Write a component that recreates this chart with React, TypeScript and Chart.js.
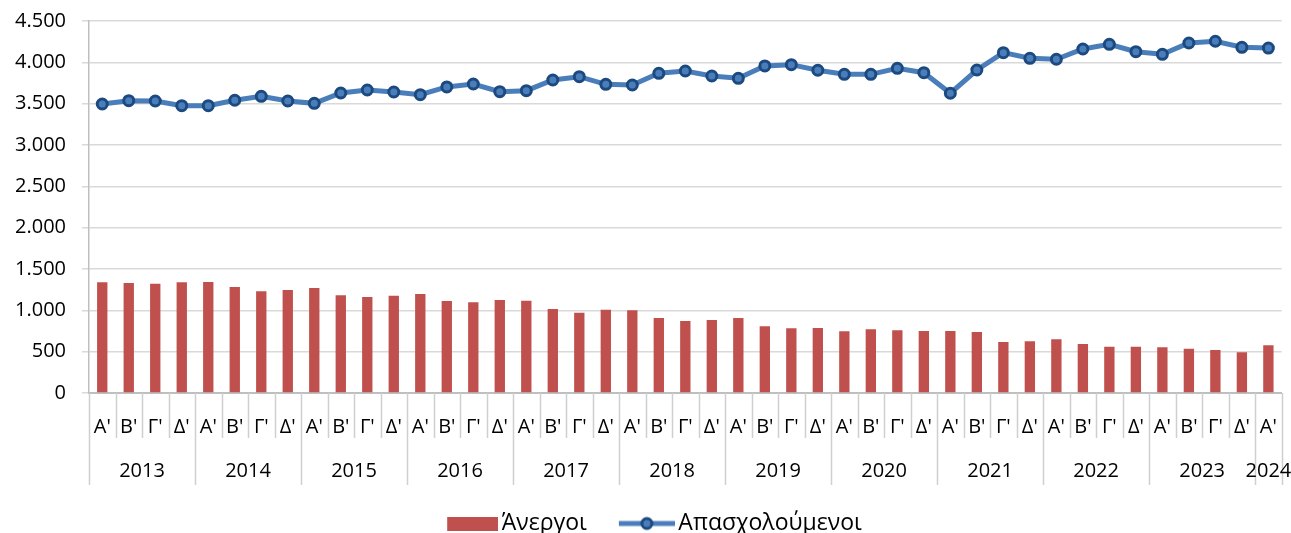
import React, { useEffect, useRef } from "react";
import { Chart, registerables } from "chart.js";

Chart.register(...registerables);

const years = ["2013", "2014", "2015", "2016", "2017", "2018", "2019", "2020", "2021", "2022", "2023", "2024"];
const quartersInYear = [4, 4, 4, 4, 4, 4, 4, 4, 4, 4, 4, 1];
const quarterNames = ["Α'", "Β'", "Γ'", "Δ'"];

const unemployed = [
  1339, 1331, 1322, 1339,
  1343, 1282, 1230, 1246,
  1270, 1182, 1161, 1177,
  1198, 1113, 1097, 1125,
  1117, 1016, 971, 1008,
  1000, 907, 871, 883,
  907, 807, 782, 786,
  746, 770, 758, 750,
  750, 738, 617, 625,
  649, 593, 560, 560,
  552, 536, 520, 492,
  577,
];

const employed = [
  3496, 3536, 3532, 3476,
  3476, 3541, 3589, 3532,
  3504, 3629, 3665, 3641,
  3609, 3702, 3738, 3645,
  3657, 3786, 3826, 3734,
  3726, 3867, 3895, 3835,
  3807, 3956, 3972, 3904,
  3855, 3855, 3928, 3875,
  3626, 3907, 4117, 4049,
  4037, 4161, 4218, 4129,
  4097, 4234, 4255, 4182,
  4173,
];

const seriesNames = ["Άνεργοι", "Απασχολούμενοι"];

const categories: string[] = [];
quartersInYear.forEach((count) => {
  for (let q = 0; q < count; q++) categories.push(quarterNames[q]);
});

const FONT = "'Open Sans', 'Noto Sans', sans-serif";
const BAR_COLOR = "#c0504d";
const LINE_COLOR = "#4a7ebb";
const POINT_BORDER = "#1c4a80";
const SEP_COLOR = "#cfcfcf";

function fmt(v: number) {
  return String(v).replace(/\B(?=(\d{3})+(?!\d))/g, ".");
}

function makeBarLegend() {
  const c = document.createElement("canvas");
  c.width = 86;
  c.height = 14;
  const g = c.getContext("2d")!;
  g.fillStyle = BAR_COLOR;
  g.fillRect(35, 0, 51, 14);
  return c;
}

function makeLineLegend() {
  const c = document.createElement("canvas");
  c.width = 86;
  c.height = 16;
  const g = c.getContext("2d")!;
  g.strokeStyle = LINE_COLOR;
  g.lineWidth = 5;
  g.beginPath();
  g.moveTo(30, 8);
  g.lineTo(86, 8);
  g.stroke();
  g.beginPath();
  g.arc(58, 8, 5, 0, Math.PI * 2);
  g.fillStyle = LINE_COLOR;
  g.fill();
  g.lineWidth = 3;
  g.strokeStyle = POINT_BORDER;
  g.stroke();
  return c;
}

const groupPlugin = {
  id: "groupPlugin",
  afterDraw(chart: any) {
    const { ctx, chartArea, scales } = chart;
    const xs = scales.x;
    const n = categories.length;
    const left = xs.left;
    const w = (xs.right - xs.left) / n;
    const base = chartArea.bottom;
    const yearStarts = new Set<number>();
    let acc = 0;
    quartersInYear.forEach((c) => {
      yearStarts.add(acc);
      acc += c;
    });
    yearStarts.add(n);
    ctx.save();
    ctx.strokeStyle = SEP_COLOR;
    ctx.lineWidth = 1.5;
    for (let i = 0; i <= n; i++) {
      const px = Math.round(left + i * w) + 0.5;
      const len = yearStarts.has(i) ? 92 : 45;
      ctx.beginPath();
      ctx.moveTo(px, base);
      ctx.lineTo(px, base + len);
      ctx.stroke();
    }
    ctx.fillStyle = "#000";
    ctx.font = `20px ${FONT}`;
    ctx.textAlign = "center";
    ctx.textBaseline = "middle";
    acc = 0;
    years.forEach((y, k) => {
      const c = quartersInYear[k];
      const cx = left + (acc + c / 2) * w;
      ctx.fillText(y, cx, base + 78);
      acc += c;
    });
    ctx.restore();
  },
};

export default function App() {
  const ref = useRef<HTMLCanvasElement | null>(null);

  useEffect(() => {
    document.body.style.margin = "0";
    document.body.style.overflow = "hidden";
    const barImg = makeBarLegend();
    const lineImg = makeLineLegend();
    const chart = new Chart(ref.current!, {
      type: "bar",
      data: {
        labels: categories,
        datasets: [
          {
            type: "bar",
            label: seriesNames[0],
            data: unemployed,
            backgroundColor: BAR_COLOR,
            barPercentage: 0.39,
            categoryPercentage: 1,
            order: 2,
          } as any,
          {
            type: "line",
            label: seriesNames[1],
            data: employed,
            borderColor: LINE_COLOR,
            borderWidth: 5,
            pointRadius: 5,
            pointBorderWidth: 3,
            pointBackgroundColor: LINE_COLOR,
            pointBorderColor: POINT_BORDER,
            tension: 0,
            order: 1,
          } as any,
        ],
      },
      options: {
        animation: false,
        responsive: true,
        maintainAspectRatio: false,
        layout: { padding: { top: 21, right: 9, left: 0, bottom: 0 } },
        plugins: {
          tooltip: { enabled: false },
          legend: {
            position: "bottom",
            labels: {
              usePointStyle: true,
              pointStyleWidth: 70,
              padding: 10,
              color: "#000",
              font: { size: 23, family: FONT },
              generateLabels: () => [
                {
                  text: seriesNames[0],
                  pointStyle: barImg,
                  fillStyle: BAR_COLOR,
                  strokeStyle: BAR_COLOR,
                  lineWidth: 0,
                  hidden: false,
                  datasetIndex: 0,
                  fontColor: "#000",
                } as any,
                {
                  text: seriesNames[1],
                  pointStyle: lineImg,
                  fillStyle: LINE_COLOR,
                  strokeStyle: LINE_COLOR,
                  lineWidth: 0,
                  hidden: false,
                  datasetIndex: 1,
                  fontColor: "#000",
                } as any,
              ],
            },
          },
        },
        scales: {
          x: {
            grid: { display: false },
            border: { display: true, color: "#bfbfbf", width: 2 },
            ticks: {
              autoSkip: false,
              maxRotation: 0,
              padding: 14,
              color: "#000",
              font: { size: 20, family: FONT },
            },
            afterFit: (s: any) => {
              s.height = 109;
            },
          },
          y: {
            min: 0,
            max: 4500,
            grid: { color: "#d9d9d9", lineWidth: 1.5, tickLength: 7, drawTicks: true },
            border: { display: true, color: "#bfbfbf", width: 1.5 },
            ticks: {
              stepSize: 500,
              padding: 16,
              color: "#000",
              font: { size: 20, family: FONT },
              callback: (v: any) => fmt(Number(v)),
            },
            afterFit: (s: any) => {
              s.width = 89;
              s.paddingTop = 0;
              s.paddingBottom = 0;
            },
          },
        },
      },
      plugins: [groupPlugin],
    });
    return () => chart.destroy();
  }, []);

  return (
    <div style={{ position: "relative", width: "1291px", height: "545px" }}>
      <canvas ref={ref} />
    </div>
  );
}
